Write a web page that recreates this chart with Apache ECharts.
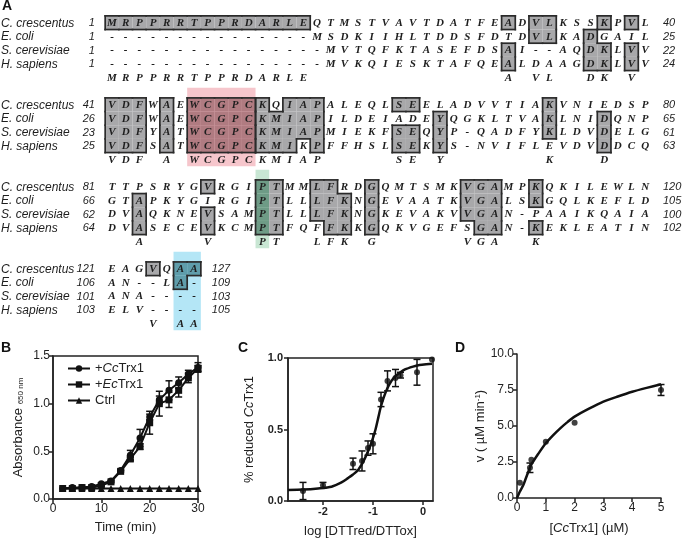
<!DOCTYPE html>
<html>
<head>
<meta charset="utf-8">
<script src="https://cdn.jsdelivr.net/npm/echarts@6/dist/echarts.min.js"></script>
<style>
  html, body { margin: 0; padding: 0; background: #fff; }
  #main { width: 683px; height: 539px; }
</style>
</head>
<body>
<div id="main"></div>
<script>
// ---- panel A : alignment ----
const species = ['C. crescentus', 'E. coli', 'S. cerevisiae', 'H. sapiens'];

const seq1 = ['MRPPRRTPPRDARLEQTMSTVAVTDATFEADVLKSSKPVL',
              '---------------MSDKIIHLTDDSFDTDVLKADGAIL',
              '----------------MVTQFKTASEFDSAI--AQDKLVV',
              '----------------MVKQIESKTAFQEALDAAGDKLVV'];
const cons1 = 'MRPPRRTPPRDARLE              A VL  DK V ';
const start1 = ['1', '1', '1', '1'];
const end1 = ['40', '25', '22', '24'];
// [row, fromCol, toCol, boxId]
const shade1 = [[0,1,15],[0,30,30],[0,32,33],[1,32,33],[0,37,37],[0,39,39],[1,36,36],
                [2,30,30],[3,30,30],[2,36,37],[3,36,37],[2,39,39],[3,39,39]];

const seq2 = ['VDFWAEWCGPCKQIAPALEQLSEELADVVTIAKVNIEDSP',
              'VDFWAEWCGPCKMIAPILDEIADEYQGKLTVAKLNIDQNP',
              'VDFYATWCGPCKMIAPMIEKFSEQYP-QADFYKLDVDELG',
              'VDFSATWCGPCKMIKPFFHSLSEKYS-NVIFLEVDVDDCQ'];
const cons2 = 'VDF A WCGPCKMIAP     SE Y       K   D   ';
const start2 = ['41', '26', '23', '25'];
const end2 = ['80', '65', '61', '63'];
const shade2 = [[0,1,3],[1,1,3],[2,1,3],[3,1,3],[0,5,5],[1,5,5],[2,5,5],[3,5,5],
                [0,7,11,1],[1,7,11,1],[2,7,11,1],[3,7,11,1],
                [0,12,12],[0,14,16],[1,12,16],[2,12,16],[3,12,14],[3,16,16],
                [0,22,23],[2,22,23],[3,22,23],[1,25,25],[2,25,25],[3,25,25],
                [0,33,33],[1,33,33],[2,33,33],[1,37,37],[2,37,37],[3,37,37]];

const seq3 = ['TTPSRYGVRGIPTMMLFRDGQMTSMKVGAMPKQKILEWLN',
              'GTAPKYGIRGIPTLLLFKNGEVAATKVGALSKGQLKEFLD',
              'DVAQKNEVSAMPTLLLFKNGKEVAKVVGAN-PAAIKQAIA',
              'DVASECEVKCMPTFQFFKKGQKVGEFSGAN-KEKLEATIN'];
const cons3 = '  A    V   PT  LFK G      VGA  K        ';
const start3 = ['81', '66', '62', '64'];
const end3 = ['120', '105', '100', '102'];
const shade3 = [[1,3,3],[2,3,3],[3,3,3],[0,8,8],[2,8,8],[3,8,8],
                [0,12,13],[1,12,13],[2,12,13],[3,12,13],
                [0,16,17],[1,16,18],[2,16,18],[3,17,18],
                [0,20,20],[1,20,20],[2,20,20],[3,20,20],
                [0,27,29],[1,27,29],[2,27,29],[3,28,29],
                [0,32,32],[1,32,32],[3,32,32]];

const seq4 = ['EAGVQAA', 'AN--LA-', 'ANA----', 'ELV----'];
const cons4 = '   V AA';
const start4 = ['121', '106', '101', '103'];
const end4 = ['127', '109', '103', '105'];
const shade4 = [[0,4,4],[0,6,7],[1,6,6]];

// highlighted columns: [block, fromCol, toCol, colour]
const bands = [[1, 7, 11, 'pink'], [2, 12, 12, 'green'], [3, 6, 7, 'blue']];

// ---- panel B ----
const timeB = [2, 4, 6, 8, 10, 12, 14, 16, 18, 20, 22, 24, 26, 28, 30];
const ccB =    [0.11, 0.12, 0.12, 0.13, 0.16, 0.19, 0.30, 0.46, 0.64, 0.86, 1.04, 1.14, 1.22, 1.31, 1.38];
const ccErrB = [0, 0, 0, 0, 0.01, 0, 0.01, 0.05, 0.09, 0.03, 0.04, 0.10, 0.06, 0.04, 0.05];
const ecB =    [0.11, 0.11, 0.12, 0.12, 0.14, 0.18, 0.29, 0.42, 0.55, 0.80, 1.00, 1.04, 1.14, 1.27, 1.37];
const ecErrB = [0, 0, 0, 0, 0.01, 0.01, 0.01, 0.02, 0.03, 0.12, 0.13, 0.08, 0.07, 0.05, 0.03];
const ctrlB =  [0.11, 0.11, 0.11, 0.11, 0.11, 0.11, 0.11, 0.11, 0.11, 0.11, 0.11, 0.11, 0.11, 0.11, 0.11];

// ---- panel C ----
const logRatio =    [-2.4, -2.0, -1.4, -1.22, -1.1, -1.0, -0.84, -0.71, -0.55, -0.45, -0.12, 0.18];
const fracReduced = [0.07, 0.11, 0.26, 0.28, 0.37, 0.40, 0.71, 0.84, 0.86, 0.88, 0.90, 0.99];
const fracErr =     [0.06, 0.02, 0.04, 0.07, 0.05, 0.07, 0.05, 0.07, 0.06, 0.02, 0.09, 0];
const fitCx = [-2.7, -2.4, -2.1, -1.83, -1.63, -1.5, -1.4, -1.29, -1.16, -1.03, -0.95, -0.89,
               -0.85, -0.79, -0.71, -0.63, -0.56, -0.45, -0.36, -0.2, -0.09, 0.18];
const fitCy = [0.077, 0.08, 0.088, 0.10, 0.13, 0.16, 0.185, 0.22, 0.30, 0.41, 0.50, 0.59,
               0.65, 0.72, 0.79, 0.84, 0.87, 0.90, 0.92, 0.94, 0.95, 0.96];

// ---- panel D ----
const conc =    [0.1, 0.45, 0.5, 1, 2, 5];
const rate =    [1.06, 2.1, 2.65, 3.9, 5.23, 7.5];
const rateErr = [0, 0.33, 0, 0, 0, 0.38];
const fitDx = [0, 0.1, 0.22, 0.35, 0.49, 0.75, 1, 1.25, 1.5, 1.75, 2, 2.5, 3, 3.5, 4, 4.5, 5];
const fitDy = [0, 0.45, 0.9, 1.6, 2.29, 3.1, 3.8, 4.35, 4.84, 5.27, 5.65, 6.2, 6.69, 7.05, 7.38, 7.65, 7.9];

// ---------------------------------------------------------------
const blocks = [
  {seq: seq1, cons: cons1, start: start1, end: end1, shade: shade1},
  {seq: seq2, cons: cons2, start: start2, end: end2, shade: shade2},
  {seq: seq3, cons: cons3, start: start3, end: end3, shade: shade3},
  {seq: seq4, cons: cons4, start: start4, end: end4, shade: shade4}
];
const bandLight = {pink: '#f6c6cc', green: '#c8e6d3', blue: '#b4e6f6'};
const bandDark = {pink: '#b07b81', green: '#6e9b86', blue: '#5f9dab'};
const GRAY = '#a8a8aa';
const INK = '#222';
const SANS = '"Liberation Sans", Arial, sans-serif';

const letterData = [], letterText = [];
const cellData = [], cellInfo = [];
const labelData = [], labelInfo = [];
const bandData = [], bandInfo = [];

bands.forEach(([b, c0, c1, k]) => {
  bandData.push([c0 - 0.5, b * 6 - 1.25, c1 + 0.5, b * 6 + 4.5]);
  bandInfo.push(bandLight[k]);
});

blocks.forEach((b, bi) => {
  const y0 = bi * 6;
  b.seq.forEach((s, r) => {
    [...s].forEach((ch, ci) => { letterData.push([ci + 1, y0 + r]); letterText.push(ch); });
    labelData.push([-7.12, y0 + r]);
    labelInfo.push({t: species[r], f: 'italic 12px ' + SANS, a: 'left'});
    labelData.push([-0.25, y0 + r]);
    labelInfo.push({t: b.start[r], f: 'italic 11px ' + SANS, a: 'right'});
    labelData.push([s.length + 1.3, y0 + r]);
    labelInfo.push({t: b.end[r], f: 'italic 11px ' + SANS, a: 'left'});
  });
  [...b.cons].forEach((ch, ci) => {
    if (ch !== ' ') { letterData.push([ci + 1, y0 + 4]); letterText.push(ch); }
  });
  const box = {};
  b.shade.forEach(([r, c0, c1, id]) => {
    for (let c = c0; c <= c1; c++) box[r + ':' + c] = id || 0;
  });
  Object.keys(box).forEach(key => {
    const [r, c] = key.split(':').map(Number);
    const id = box[key];
    const diff = (rr, cc) => box[rr + ':' + cc] !== id;
    const band = bands.find(([bb, c0, c1]) => bb === bi && c >= c0 && c <= c1);
    cellData.push([c, y0 + r]);
    cellInfo.push({
      fill: band ? bandDark[band[3]] : GRAY,
      t: diff(r - 1, c), b: diff(r + 1, c), l: diff(r, c - 1), r: diff(r, c + 1)
    });
  });
});

const chart = echarts.init(document.getElementById('main'));

function errBar(params, api) {
  const x = api.value(0), y = api.value(1), e = api.value(2);
  if (!e) return null;
  const top = api.coord([x, y + e]), bot = api.coord([x, y - e]);
  const w = 3.5;
  const st = {stroke: '#111', lineWidth: 1.5};
  return {type: 'group', children: [
    {type: 'line', shape: {x1: top[0], y1: top[1], x2: bot[0], y2: bot[1]}, style: st},
    {type: 'line', shape: {x1: top[0] - w, y1: top[1], x2: top[0] + w, y2: top[1]}, style: st},
    {type: 'line', shape: {x1: bot[0] - w, y1: bot[1], x2: bot[0] + w, y2: bot[1]}, style: st}
  ]};
}

function axisBase(extra) {
  return Object.assign({
    type: 'value',
    splitLine: {show: false},
    axisLine: {show: true, onZero: false, lineStyle: {color: INK, width: 1.5}},
    axisTick: {show: true, length: 4, lineStyle: {color: INK, width: 1.5}},
    axisLabel: {color: INK, fontSize: 12, fontFamily: SANS, margin: 4},
    nameLocation: 'middle',
    nameTextStyle: {color: INK, fontSize: 13, fontFamily: SANS}
  }, extra);
}

const italicRich = {
  i: {fontStyle: 'italic', fontSize: 13, fontFamily: SANS, color: INK},
  s: {fontSize: 8, fontFamily: SANS, color: INK, verticalAlign: 'bottom'},
  sup: {fontSize: 8, fontFamily: SANS, color: INK, verticalAlign: 'top'}
};

const option = {
  animation: false,
  backgroundColor: '#fff',
  graphic: [
    {type: 'text', left: 2, top: -1, style: {text: 'A', font: 'bold 14px ' + SANS, fill: '#111'}},
    {type: 'text', left: 1, top: 341, style: {text: 'B', font: 'bold 14px ' + SANS, fill: '#111'}},
    {type: 'text', left: 238, top: 341, style: {text: 'C', font: 'bold 14px ' + SANS, fill: '#111'}},
    {type: 'text', left: 455, top: 341, style: {text: 'D', font: 'bold 14px ' + SANS, fill: '#111'}}
  ],
  legend: {
    data: ['+CcTrx1', '+EcTrx1', 'Ctrl'],
    orient: 'vertical', left: 62, top: 357, itemGap: 3,
    itemWidth: 22, itemHeight: 8,
    formatter: n => n.replace(/^\+(Cc|Ec)/, '+{i|$1}'),
    textStyle: {color: INK, fontSize: 13, fontFamily: SANS, rich: italicRich}
  },
  grid: [
    {left: 105.17, top: 15.87, width: 546.8, height: 314.4},
    {left: 53, top: 356, width: 145, height: 143, show: true, borderColor: INK, borderWidth: 1.5},
    {left: 288, top: 358, width: 145, height: 144, show: true, borderColor: INK, borderWidth: 1.5},
    {left: 517, top: 354, width: 144, height: 144}
  ],
  xAxis: [
    {gridIndex: 0, type: 'value', min: 0.5, max: 40.5, show: false},
    axisBase({gridIndex: 1, min: 0, max: 30, interval: 10, name: 'Time (min)', nameGap: 22}),
    axisBase({gridIndex: 2, min: -2.7, max: 0.2, name: 'log [DTTred/DTTox]', nameGap: 24,
      axisTick: {show: true, length: 4, customValues: [-2, -1, 0], lineStyle: {color: INK, width: 1.5}},
      axisLabel: {color: INK, fontSize: 11, fontWeight: 'bold', fontFamily: SANS, margin: 5, customValues: [-2, -1, 0]}}),
    axisBase({gridIndex: 3, min: 0, max: 5, interval: 1, name: '[{i|Cc}Trx1] (µM)', nameGap: 24,
      nameTextStyle: {color: INK, fontSize: 13, fontFamily: SANS, rich: italicRich}})
  ],
  yAxis: [
    {gridIndex: 0, type: 'value', min: -0.5, max: 22.5, inverse: true, show: false},
    axisBase({gridIndex: 1, min: 0, max: 1.5, interval: 0.5, name: 'Absorbance {s|650 nm}', nameGap: 28,
      axisLabel: {color: INK, fontSize: 12, fontFamily: SANS, margin: 3, formatter: v => v.toFixed(1)},
      nameTextStyle: {color: INK, fontSize: 13, fontFamily: SANS, rich: italicRich}}),
    axisBase({gridIndex: 2, min: 0, max: 1, interval: 0.5, name: '% reduced {i|Cc}Trx1', nameGap: 32,
      axisLabel: {color: INK, fontSize: 11, fontWeight: 'bold', fontFamily: SANS, margin: 5, formatter: v => v.toFixed(1)},
      nameTextStyle: {color: INK, fontSize: 13, fontFamily: SANS, rich: italicRich}}),
    axisBase({gridIndex: 3, min: 0, max: 10, interval: 2.5, name: 'v ( µM min{sup|-1})', nameGap: 28,
      axisLabel: {color: INK, fontSize: 12, fontFamily: SANS, margin: 3, formatter: v => v.toFixed(1)},
      nameTextStyle: {color: INK, fontSize: 13, fontFamily: SANS, rich: italicRich}})
  ],
  series: [
    // alignment highlight columns
    {type: 'custom', xAxisIndex: 0, yAxisIndex: 0, z: 1, clip: false, silent: true, data: bandData,
      renderItem(params, api) {
        const a = api.coord([api.value(0), api.value(1)]);
        const b = api.coord([api.value(2), api.value(3)]);
        return {type: 'rect', shape: {x: a[0], y: a[1], width: b[0] - a[0], height: b[1] - a[1]},
          style: {fill: bandInfo[params.dataIndex]}};
      }},
    // shaded cells
    {type: 'custom', xAxisIndex: 0, yAxisIndex: 0, z: 2, clip: false, silent: true, data: cellData,
      renderItem(params, api) {
        const p = api.coord([api.value(0), api.value(1)]);
        const s = api.size([1, 1]);
        return {type: 'rect', shape: {x: p[0] - s[0] / 2, y: p[1] - s[1] / 2, width: s[0], height: s[1]},
          style: {fill: cellInfo[params.dataIndex].fill}};
      }},
    // box outlines
    {type: 'custom', xAxisIndex: 0, yAxisIndex: 0, z: 3, clip: false, silent: true, data: cellData,
      renderItem(params, api) {
        const p = api.coord([api.value(0), api.value(1)]);
        const s = api.size([1, 1]);
        const e = cellInfo[params.dataIndex];
        const x0 = p[0] - s[0] / 2, x1 = p[0] + s[0] / 2, y0 = p[1] - s[1] / 2, y1 = p[1] + s[1] / 2;
        const st = {stroke: '#2a2a2a', lineWidth: 1.7, lineCap: 'square'};
        const kids = [];
        if (e.t) kids.push({type: 'line', shape: {x1: x0, y1: y0, x2: x1, y2: y0}, style: st});
        if (e.b) kids.push({type: 'line', shape: {x1: x0, y1: y1, x2: x1, y2: y1}, style: st});
        if (e.l) kids.push({type: 'line', shape: {x1: x0, y1: y0, x2: x0, y2: y1}, style: st});
        if (e.r) kids.push({type: 'line', shape: {x1: x1, y1: y0, x2: x1, y2: y1}, style: st});
        return {type: 'group', children: kids};
      }},
    // residues
    {type: 'custom', xAxisIndex: 0, yAxisIndex: 0, z: 4, clip: false, silent: true, data: letterData,
      renderItem(params, api) {
        const p = api.coord([api.value(0), api.value(1)]);
        return {type: 'text', x: p[0], y: p[1] + 0.5,
          style: {text: letterText[params.dataIndex], font: 'italic bold 11px "Liberation Serif", serif',
            fill: '#1e1e1e', align: 'center', verticalAlign: 'middle'}};
      }},
    // species names and residue numbers
    {type: 'custom', xAxisIndex: 0, yAxisIndex: 0, z: 4, clip: false, silent: true, data: labelData,
      renderItem(params, api) {
        const p = api.coord([api.value(0), api.value(1)]);
        const l = labelInfo[params.dataIndex];
        return {type: 'text', x: p[0], y: p[1] + 0.5,
          style: {text: l.t, font: l.f, fill: '#1e1e1e', align: l.a, verticalAlign: 'middle'}};
      }},

    // ---- B ----
    {name: '+CcTrx1', type: 'line', xAxisIndex: 1, yAxisIndex: 1, symbol: 'circle', symbolSize: 7,
      itemStyle: {color: '#111'}, lineStyle: {color: '#111', width: 2},
      data: timeB.map((t, i) => [t, ccB[i]])},
    {name: '+EcTrx1', type: 'line', xAxisIndex: 1, yAxisIndex: 1, symbol: 'rect', symbolSize: 7,
      itemStyle: {color: '#111'}, lineStyle: {color: '#111', width: 2},
      data: timeB.map((t, i) => [t, ecB[i]])},
    {name: 'Ctrl', type: 'line', xAxisIndex: 1, yAxisIndex: 1, symbol: 'triangle', symbolSize: 7,
      itemStyle: {color: '#111'}, lineStyle: {color: '#111', width: 2},
      data: timeB.map((t, i) => [t, ctrlB[i]])},
    {type: 'custom', xAxisIndex: 1, yAxisIndex: 1, z: 3, renderItem: errBar,
      data: timeB.map((t, i) => [t, ccB[i], ccErrB[i]])},
    {type: 'custom', xAxisIndex: 1, yAxisIndex: 1, z: 3, renderItem: errBar,
      data: timeB.map((t, i) => [t, ecB[i], ecErrB[i]])},

    // ---- C ----
    {type: 'line', xAxisIndex: 2, yAxisIndex: 2, symbol: 'none', smooth: 0.25,
      lineStyle: {color: '#111', width: 2.5}, data: fitCx.map((x, i) => [x, fitCy[i]])},
    {type: 'scatter', xAxisIndex: 2, yAxisIndex: 2, symbol: 'circle', symbolSize: 6,
      itemStyle: {color: '#111'}, data: logRatio.map((x, i) => [x, fracReduced[i]])},
    {type: 'custom', xAxisIndex: 2, yAxisIndex: 2, z: 3, renderItem: errBar,
      data: logRatio.map((x, i) => [x, fracReduced[i], fracErr[i]])},

    // ---- D ----
    {type: 'line', xAxisIndex: 3, yAxisIndex: 3, symbol: 'none', smooth: 0.25,
      lineStyle: {color: '#111', width: 2.5}, data: fitDx.map((x, i) => [x, fitDy[i]])},
    {type: 'scatter', xAxisIndex: 3, yAxisIndex: 3, symbol: 'circle', symbolSize: 6,
      itemStyle: {color: '#111'}, data: conc.map((x, i) => [x, rate[i]])},
    {type: 'custom', xAxisIndex: 3, yAxisIndex: 3, z: 3, renderItem: errBar,
      data: conc.map((x, i) => [x, rate[i], rateErr[i]])}
  ]
};

chart.setOption(option);
</script>
</body>
</html>
